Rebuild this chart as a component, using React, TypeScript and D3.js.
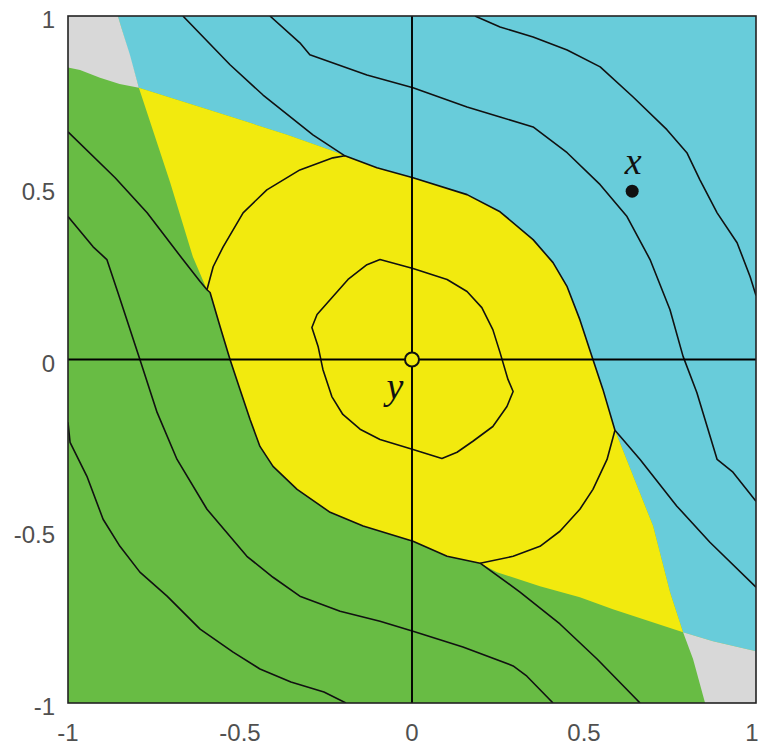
import React from 'react';
import * as d3 from 'd3';

type Pt = [number, number];

// axis ticks
const tickValues = [-1, -0.5, 0, 0.5, 1];
const tickLabels = ['-1', '-0.5', '0', '0.5', '1'];

// region boundaries (data coords)
const grayTopLeft: Pt[] = [[-1, 1], [-0.855, 1], [-0.843, 0.96], [-0.82, 0.887], [-0.794, 0.791], [-0.85, 0.802], [-0.907, 0.82], [-0.965, 0.843], [-1, 0.85]];
const grayBottomRight: Pt[] = [[0.788, -0.794], [0.875, -0.82], [1, -0.849], [1, -1], [0.852, -1], [0.817, -0.872]];

const yellowTop: Pt[] = [[-0.794, 0.791], [-0.616, 0.735], [-0.471, 0.689], [-0.363, 0.654], [-0.238, 0.61], [-0.195, 0.593]];
const yellowUpperRight: Pt[] = [[-0.102, 0.558], [0.003, 0.529], [0.16, 0.48], [0.256, 0.43], [0.352, 0.349], [0.41, 0.282], [0.451, 0.212], [0.488, 0.116], [0.526, 0], [0.555, -0.087], [0.59, -0.206]];
const yellowRight: Pt[] = [[0.701, -0.485], [0.75, -0.677], [0.788, -0.794]];
const yellowBottom: Pt[] = [[0.584, -0.727], [0.488, -0.692], [0.372, -0.66], [0.247, -0.619], [0.198, -0.593]];
const yellowLowerLeft: Pt[] = [[0.102, -0.573], [0.003, -0.529], [-0.142, -0.485], [-0.238, -0.445], [-0.334, -0.378], [-0.404, -0.311], [-0.442, -0.253], [-0.471, -0.174], [-0.5, -0.087], [-0.529, 0], [-0.558, 0.096], [-0.587, 0.195], [-0.596, 0.203]];
const yellowLeft: Pt[] = [[-0.637, 0.299], [-0.703, 0.515]];
const cyanCorners: Pt[] = [[-0.855, 1], [1, 1], [1, -0.849], [0.875, -0.82]];

// contour lines
const outerRightInside: Pt[] = [[0.567, -0.291], [0.526, -0.378], [0.488, -0.436], [0.43, -0.5], [0.372, -0.544], [0.294, -0.573]];
const outerLeftInside: Pt[] = [[-0.578, 0.27], [-0.549, 0.328], [-0.491, 0.427], [-0.422, 0.494], [-0.326, 0.552], [-0.23, 0.587]];
const innerLoop: Pt[] = [[-0.093, 0.291], [0.003, 0.265], [0.102, 0.233], [0.16, 0.198], [0.203, 0.151], [0.235, 0.087], [0.256, 0.02], [0.279, -0.058], [0.294, -0.093], [0.276, -0.137], [0.235, -0.195], [0.177, -0.238], [0.131, -0.27], [0.087, -0.288], [0.003, -0.262], [-0.093, -0.233], [-0.151, -0.203], [-0.201, -0.16], [-0.233, -0.108], [-0.259, -0.029], [-0.273, 0.038], [-0.291, 0.093], [-0.276, 0.131], [-0.233, 0.18], [-0.186, 0.233], [-0.131, 0.276]];
const cyanA: Pt[] = [[-0.666, 1], [-0.529, 0.858], [-0.433, 0.77], [-0.288, 0.654], [-0.195, 0.593]];
const greenA: Pt[] = [[0.198, -0.593], [0.314, -0.677], [0.43, -0.77], [0.538, -0.872], [0.663, -1]];
const cyanB: Pt[] = [[0.59, -0.206], [0.663, -0.291], [0.77, -0.427], [0.866, -0.532], [1, -0.663]];
const greenB: Pt[] = [[-0.596, 0.203], [-0.616, 0.227], [-0.666, 0.291], [-0.77, 0.427], [-0.863, 0.529], [-1, 0.663]];
const cyanC2: Pt[] = [[-0.413, 1], [-0.326, 0.922], [-0.297, 0.887], [-0.131, 0.828], [0.003, 0.791], [0.16, 0.735], [0.256, 0.706], [0.352, 0.677], [0.451, 0.602], [0.547, 0.509], [0.625, 0.416], [0.692, 0.291], [0.75, 0.145], [0.788, 0.009], [0.828, -0.096], [0.887, -0.291], [0.933, -0.328], [1, -0.413]];
const greenC2: Pt[] = [[-1, 0.416], [-0.927, 0.328], [-0.887, 0.291], [-0.855, 0.195], [-0.791, 0], [-0.741, -0.154], [-0.683, -0.291], [-0.596, -0.436], [-0.48, -0.573], [-0.404, -0.634], [-0.326, -0.689], [-0.209, -0.733], [-0.093, -0.762], [0.003, -0.791], [0.148, -0.837], [0.294, -0.892], [0.334, -0.922], [0.41, -1]];
const cyanC3: Pt[] = [[0.183, 1], [0.256, 0.968], [0.352, 0.939], [0.451, 0.901], [0.547, 0.852], [0.642, 0.765], [0.741, 0.669], [0.799, 0.602], [0.837, 0.523], [0.887, 0.427], [0.945, 0.34], [0.983, 0.241], [1, 0.186]];
const greenC3: Pt[] = [[-1, -0.183], [-0.994, -0.241], [-0.945, -0.34], [-0.898, -0.465], [-0.849, -0.544], [-0.791, -0.619], [-0.712, -0.689], [-0.616, -0.785], [-0.52, -0.852], [-0.442, -0.901], [-0.352, -0.939], [-0.256, -0.968], [-0.192, -1]];

// marked points
const pointX: Pt = [0.64, 0.49];
const pointY: Pt = [0, 0];

export default function App() {
  const width = 759, height = 747;
  const x = d3.scaleLinear().domain([-1, 1]).range([68, 756]);
  const y = d3.scaleLinear().domain([-1, 1]).range([703, 16]);

  const line = d3.line<Pt>().x(d => x(d[0])).y(d => y(d[1]));
  const closed = d3.line<Pt>().x(d => x(d[0])).y(d => y(d[1])).curve(d3.curveLinearClosed);

  const yellowRegion = [...yellowTop, ...yellowUpperRight, ...yellowRight, ...yellowBottom, ...yellowLowerLeft, ...yellowLeft];
  const cyanRegion = [...cyanCorners, ...[...yellowTop, ...yellowUpperRight, ...yellowRight].reverse()];
  const outerLoop = [...yellowTop.slice(-1), ...yellowUpperRight, ...outerRightInside, ...yellowBottom.slice(-1), ...yellowLowerLeft, ...outerLeftInside];
  const openLines = [cyanA, greenA, cyanB, greenB, cyanC2, greenC2, cyanC3, greenC3];

  const font = "'Liberation Sans', Arial, sans-serif";
  const serif = "'Liberation Serif', 'Times New Roman', serif";

  return (
    <svg width={width} height={height} style={{ position: 'absolute', left: 0, top: 0, display: 'block' }}>
      <defs>
        <clipPath id="plot">
          <rect x={x(-1)} y={y(1)} width={x(1) - x(-1)} height={y(-1) - y(1)} />
        </clipPath>
      </defs>
      <g clipPath="url(#plot)">
        <rect x={x(-1)} y={y(1)} width={x(1) - x(-1)} height={y(-1) - y(1)} fill="#68bc44" />
        <path d={closed(cyanRegion) || ''} fill="#68ccda" />
        <path d={closed(yellowRegion) || ''} fill="#f2ea0e" />
        <path d={closed(grayTopLeft) || ''} fill="#d8d8d8" />
        <path d={closed(grayBottomRight) || ''} fill="#d8d8d8" />

        {openLines.map((l, i) => (
          <path key={i} d={line(l) || ''} fill="none" stroke="#111" strokeWidth={1.6} strokeLinejoin="round" />
        ))}
        <path d={closed(outerLoop) || ''} fill="none" stroke="#111" strokeWidth={1.6} strokeLinejoin="round" />
        <path d={closed(innerLoop) || ''} fill="none" stroke="#111" strokeWidth={1.6} strokeLinejoin="round" />
      </g>

      {/* axes through origin */}
      <line x1={x(0)} x2={x(0)} y1={y(1)} y2={y(-1)} stroke="#000" strokeWidth={1.9} />
      <line x1={x(-1)} x2={x(1)} y1={y(0)} y2={y(0)} stroke="#000" strokeWidth={1.9} />
      <rect x={x(-1)} y={y(1)} width={x(1) - x(-1)} height={y(-1) - y(1)} fill="none" stroke="#222" strokeWidth={1.6} />

      {tickValues.map((t, i) => (
        <text key={'l' + i} x={55} y={y(t) + 12} textAnchor="end" fontFamily={font} fontSize={24} fill="#505050">{tickLabels[i]}</text>
      ))}
      {tickValues.map((t, i) => (
        <text key={'b' + i} x={Math.min(x(t), 752)} y={741} textAnchor="middle" fontFamily={font} fontSize={24} fill="#505050">{tickLabels[i]}</text>
      ))}

      <circle cx={x(pointX[0])} cy={y(pointX[1])} r={6.5} fill="#111" />
      <text x={x(pointX[0]) + 1} y={y(pointX[1]) - 17} textAnchor="middle" fontFamily={serif} fontStyle="italic" fontSize={38} fill="#111">x</text>
      <circle cx={x(pointY[0])} cy={y(pointY[1])} r={7} fill="#f2ea0e" stroke="#111" strokeWidth={2} />
      <text x={x(pointY[0]) - 17} y={y(pointY[1]) + 39} textAnchor="middle" fontFamily={serif} fontStyle="italic" fontSize={38} fill="#111">y</text>
    </svg>
  );
}
